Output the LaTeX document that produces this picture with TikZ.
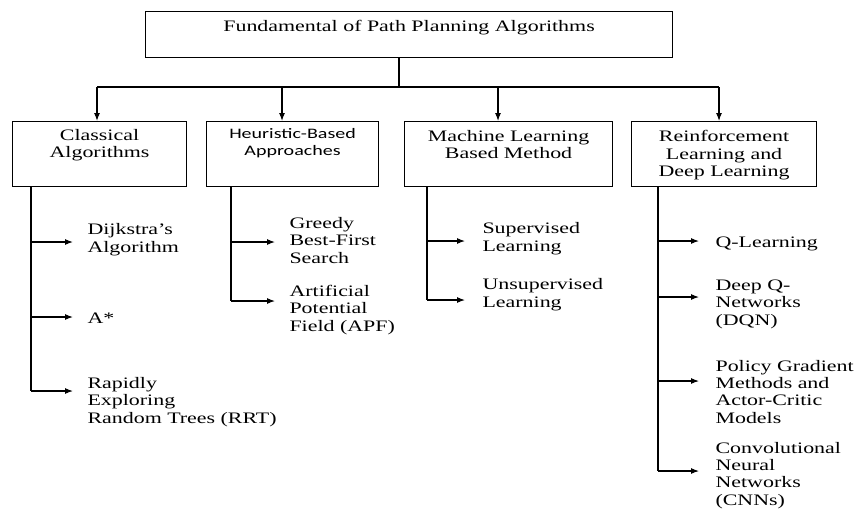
\documentclass[tikz,border=0pt]{standalone}
\usepackage{fontspec}
\setmainfont{Liberation Serif}[FakeStretch=1.37]
\newfontfamily\heufont{Carlito}[FakeStretch=1.38]
\usetikzlibrary{arrows.meta}

\begin{document}
\begin{tikzpicture}[x=1pt,y=-1pt,line width=1.1pt,
  >={Latex[length=8pt,width=6pt]},
  box/.style={draw,anchor=north west,inner sep=0pt,align=center,
    font=\fontsize{16}{17.5}\selectfont},
  leaf/.style={anchor=base west,inner sep=0pt,align=left,
    font=\fontsize{16}{17.3}\selectfont}]
\useasboundingbox (0,0) rectangle (858,509);

% top box and the four families (text height/depth fix where the lines sit)
\node[box,minimum width=527pt,text height=20pt,text depth=26pt] (root) at (145,11)
  {Fundamental of Path Planning Algorithms};
\node[box,minimum width=174pt,text height=36pt,text depth=29pt] (cls) at (12,121)
  {Classical\\Algorithms};
\node[box,minimum width=172pt,text height=34pt,text depth=31pt,
  font=\heufont\fontsize{14.5}{16.8}\selectfont] (heu) at (206,121) {Heuristic-Based\\Approaches};
\node[box,minimum width=208pt,text height=37pt,text depth=28pt] (ml) at (404,121)
  {Machine Learning\\Based Method};
\node[box,minimum width=185pt,text height=55pt,text depth=10pt] (rl) at (631,121)
  {Reinforcement\\Learning and\\Deep Learning};

% bus
\coordinate (j) at (399,87);
\coordinate (p1) at (97,87);
\coordinate (p2) at (282,87);
\coordinate (p3) at (498,87);
\coordinate (p4) at (719,87);
\draw (j |- root.south) -- (j);
\draw (p1) -- (p4);
\foreach \p/\n in {p1/cls,p2/heu,p3/ml,p4/rl}
  \draw[->] (\p) -- (\p |- \n.north);

% Classical Algorithms (\by = baseline of the last line)
\coordinate (clsT) at ([xshift=19pt]cls.south west);
\foreach \n/\ay/\by/\txt in {dij/242/252/{Dijkstra’s\\Algorithm},astar/317/323/{A*},
    rrt/391/423/{Rapidly\\Exploring\\Random Trees (RRT)}}{
  \coordinate (t\n) at (73,\ay);
  \node[leaf] (\n) at (87,\by) {\txt};
  \draw[->] (clsT |- t\n) -- (t\n);}
\draw (clsT) -- (clsT |- trrt);

% Heuristic-Based Approaches
\coordinate (heuT) at ([xshift=25pt]heu.south west);
\foreach \n/\ay/\by/\txt in {greedy/242/263/{Greedy\\Best-First\\Search},
    apf/301/331/{Artificial\\Potential\\Field (APF)}}{
  \coordinate (t\n) at (275,\ay);
  \node[leaf] (\n) at (289,\by) {\txt};
  \draw[->] (heuT |- t\n) -- (t\n);}
\draw (heuT) -- (heuT |- tapf);

% Machine Learning Based Method
\coordinate (mlT) at ([xshift=23pt]ml.south west);
\foreach \n/\ay/\by/\txt in {sup/241/251/{Supervised\\Learning},
    unsup/300/307/{Unsupervised\\Learning}}{
  \coordinate (t\n) at (465,\ay);
  \node[leaf] (\n) at (482,\by) {\txt};
  \draw[->] (mlT |- t\n) -- (t\n);}
\draw (mlT) -- (mlT |- tunsup);

% Reinforcement Learning and Deep Learning
\coordinate (rlT) at ([xshift=27pt]rl.south west);
\foreach \n/\ay/\by/\txt in {ql/241/247/{Q-Learning},dqn/297/325/{Deep Q-\\Networks\\(DQN)},
    pg/381/423/{Policy Gradient\\Methods and\\Actor-Critic\\Models},
    cnn/471/505/{Convolutional\\Neural\\Networks\\(CNNs)}}{
  \coordinate (t\n) at (699,\ay);
  \node[leaf] (\n) at (715,\by) {\txt};
  \draw[->] (rlT |- t\n) -- (t\n);}
\draw (rlT) -- (rlT |- tcnn);
\end{tikzpicture}
\end{document}
